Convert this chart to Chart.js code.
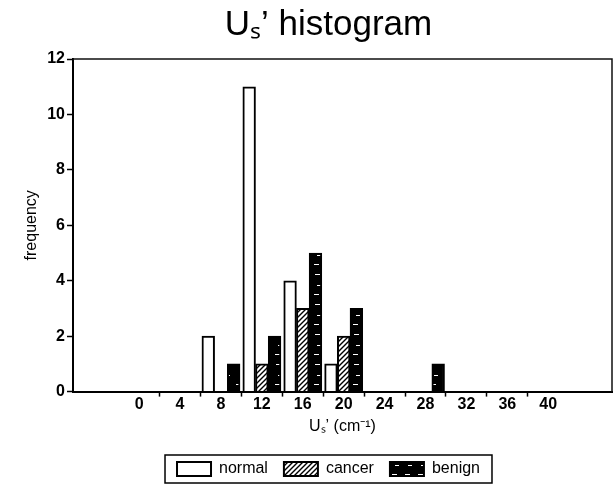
<!DOCTYPE html>
<html><head><meta charset="utf-8">
<script src="https://cdn.jsdelivr.net/npm/chart.js@4.4.0/dist/chart.umd.min.js"></script>
<style>html,body{margin:0;padding:0;background:#fff;} #wrap{width:614px;height:493px;position:relative;}</style>
</head><body><div id="wrap"><canvas id="c" width="614" height="493"></canvas></div>
<script>
// ---- data ----
const binCenters   = [0, 4, 8, 12, 16, 20, 24, 28, 32, 36, 40];
const normalCounts = [0, 0, 2, 11, 4, 1, 0, 0, 0, 0, 0];
const cancerCounts = [0, 0, 0, 1, 3, 2, 0, 0, 0, 0, 0];
const benignCounts = [0, 0, 1, 2, 5, 3, 0, 1, 0, 0, 0];
const xTickLabels  = [0, 4, 8, 12, 16, 20, 24, 28, 32, 36, 40];
const xTickMarks   = [2, 6, 10, 14, 18, 22, 26, 30, 34, 38];
const yTickValues  = [0, 2, 4, 6, 8, 10, 12];
const seriesNames  = ['normal', 'cancer', 'benign'];

const FONT = "'Liberation Sans', Arial, Helvetica, sans-serif";
const cvs = document.getElementById('c');
const ctx2 = cvs.getContext('2d');

function hatchPattern() {
  const s = 5;
  const c = document.createElement('canvas'); c.width = s; c.height = s;
  const g = c.getContext('2d');
  g.fillStyle = '#fff'; g.fillRect(0, 0, s, s);
  g.strokeStyle = '#000'; g.lineWidth = 1.4;
  g.beginPath();
  g.moveTo(-1, s + 1); g.lineTo(s + 1, -1);
  g.moveTo(-1, 1); g.lineTo(1, -1);
  g.moveTo(s - 1, s + 1); g.lineTo(s + 1, s - 1);
  g.stroke();
  return ctx2.createPattern(c, 'repeat');
}
function dashPattern() {
  const w = 13, h = 30;
  const c = document.createElement('canvas'); c.width = w; c.height = h;
  const g = c.getContext('2d');
  g.fillStyle = '#000'; g.fillRect(0, 0, w, h);
  g.fillStyle = '#fff';
  g.fillRect(3, 4, 5, 1);
  g.fillRect(5, 15, 4, 1);
  g.fillRect(2, 24, 5, 1);
  return ctx2.createPattern(c, 'repeat');
}

// table for the library: zero counts produce no visible bar
const mk = (arr) => binCenters.map((x, i) => ({ x: x, y: arr[i] === 0 ? null : arr[i] }));

const shiftPlugin = {
  id: 'shift',
  afterLayout(chart) {
    const t = chart.titleBlock;
    if (t) { t.left += 14; t.right += 14; }
    const l = chart.legend;
    if (l) { l.left += 14; l.right += 14; }
  }
};
const framePlugin = {
  id: 'frame',
  afterDraw(chart) {
    const g = chart.ctx, a = chart.chartArea;
    g.save();
    g.strokeStyle = '#111'; g.lineWidth = 1.5;
    g.beginPath();
    g.moveTo(a.left, a.top); g.lineTo(a.right, a.top); g.lineTo(a.right, a.bottom);
    g.stroke();
    const hb = chart.legend && chart.legend.legendHitBoxes;
    if (hb && hb.length) {
      let L = Infinity, R = -Infinity, T = Infinity, B = -Infinity;
      hb.forEach(h => { L = Math.min(L, h.left); R = Math.max(R, h.left + h.width); T = Math.min(T, h.top); B = Math.max(B, h.top + h.height); });
      g.lineWidth = 1.5; g.strokeStyle = '#000';
      g.strokeRect(L - 12, T - 6, (R - L) + 24, (B - T) + 12);
    }
    g.restore();
  }
};

new Chart(cvs, {
  type: 'bar',
  data: {
    datasets: [
      { label: seriesNames[0], data: mk(normalCounts), backgroundColor: '#fff', borderColor: '#000', borderWidth: 2 },
      { label: seriesNames[1], data: mk(cancerCounts), backgroundColor: hatchPattern(), borderColor: '#000', borderWidth: 2 },
      { label: seriesNames[2], data: mk(benignCounts), backgroundColor: dashPattern(), borderColor: '#000', borderWidth: 2 }
    ]
  },
  options: {
    responsive: false,
    animation: false,
    devicePixelRatio: 1,
    barThickness: 12.7,
    layout: { padding: { left: 17, right: 2, top: 0, bottom: 6 } },
    plugins: {
      title: {
        display: true,
        text: 'Uₛ’ histogram',
        color: '#000',
        font: { family: FONT, size: 35, weight: 'normal' },
        padding: { top: 4, bottom: 13 }
      },
      legend: {
        display: true,
        position: 'bottom',
        labels: {
          color: '#000',
          font: { family: FONT, size: 16, weight: 'normal' },
          boxWidth: 34, boxHeight: 14, padding: 16
        }
      },
      tooltip: { enabled: false }
    },
    scales: {
      x: {
        type: 'linear',
        offset: false,
        min: -6.47, max: 46.24,
        afterBuildTicks: (s) => {
          const vals = xTickLabels.concat(xTickMarks).sort((a, b) => a - b);
          s.ticks = vals.map(v => ({ value: v }));
        },
        ticks: {
          autoSkip: false, maxRotation: 0, color: '#000', padding: -2,
          font: { family: FONT, size: 16, weight: 'bold' },
          callback: (v) => xTickLabels.includes(v) ? String(v) : ''
        },
        grid: {
          offset: false, drawOnChartArea: false, tickLength: 5, tickWidth: 1.5,
          tickColor: (c) => (c.tick && xTickMarks.includes(c.tick.value)) ? '#000' : 'rgba(0,0,0,0)'
        },
        border: { display: true, color: '#000', width: 2 },
        title: {
          display: true, text: 'Uₛ’ (cm⁻¹)', color: '#000',
          font: { family: FONT, size: 16, weight: 'normal' },
          padding: { top: 5, bottom: 9 }
        }
      },
      y: {
        min: 0, max: 12,
        afterBuildTicks: (s) => { s.ticks = yTickValues.map(v => ({ value: v })); },
        ticks: { color: '#000', padding: 2, font: { family: FONT, size: 16, weight: 'bold' } },
        grid: { drawOnChartArea: false, tickLength: 6, tickWidth: 1.5, tickColor: '#000' },
        border: { display: true, color: '#000', width: 2 },
        title: {
          display: true, text: 'frequency', color: '#000',
          font: { family: FONT, size: 16, weight: 'normal' },
          padding: { top: 5, bottom: 4 }
        }
      }
    }
  },
  plugins: [shiftPlugin, framePlugin]
});
</script>
</body></html>
